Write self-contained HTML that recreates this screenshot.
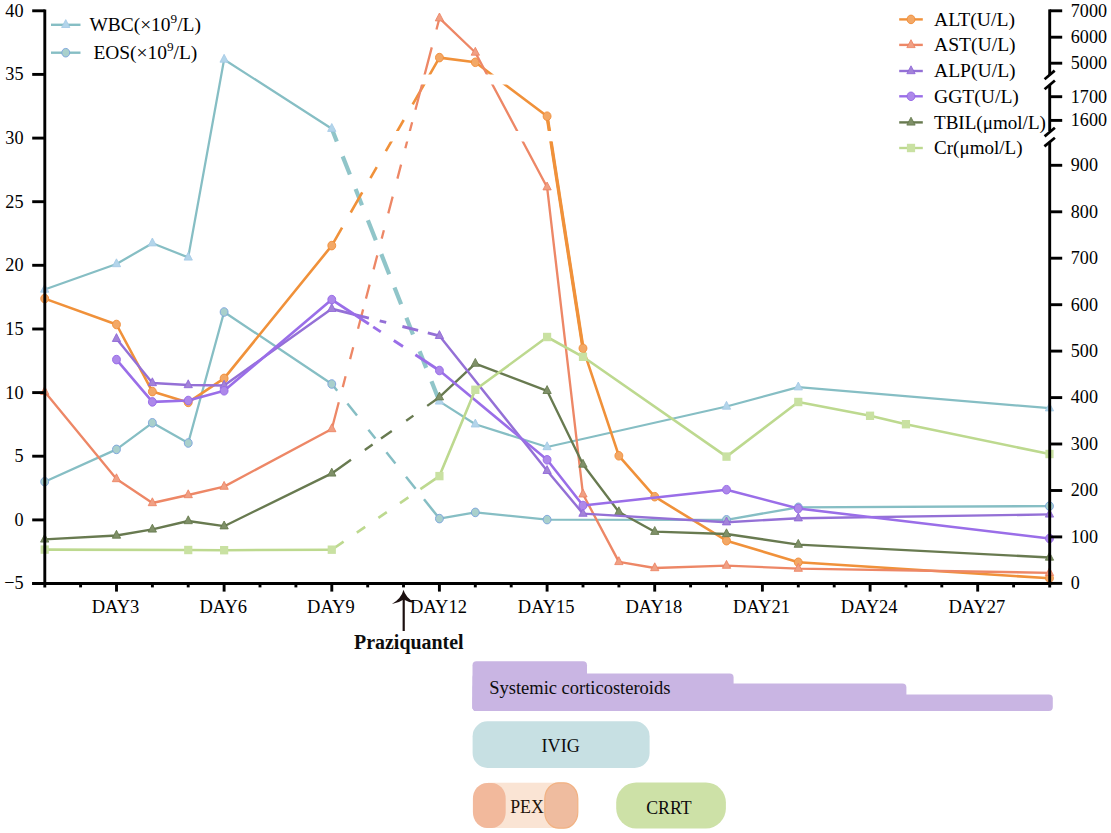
<!DOCTYPE html>
<html><head><meta charset="utf-8"><style>
html,body{margin:0;padding:0;background:#fff;}
body{width:1111px;height:833px;overflow:hidden;position:relative;}
svg{position:absolute;left:0;top:0;}
text{font-family:"Liberation Serif",serif;}
</style></head><body>
<svg width="1111" height="833" viewBox="0 0 1111 833">
<defs>
<clipPath id="brk"><path d="M0,0H1111V74.5H0Z M0,84.5H1111V131.0H0Z M0,141.6H1111V833H0Z"/></clipPath>
<clipPath id="plot"><rect x="38" y="0" width="1020" height="590"/></clipPath>
</defs>

<g fill="none" stroke="#86bec4" stroke-linejoin="round">
<polyline points="44.7,289.5 116.5,264.0 152.4,243.2 188.2,257.4 224.1,59.5 331.8,128.7" stroke-width="2.25"/>
<path d="M331.80,128.75L336.80,141.42M342.70,156.36L349.90,174.60M355.60,189.04L362.00,205.25M367.90,220.20L375.80,240.21M381.30,254.14L389.20,274.15M394.50,287.58L401.10,304.29M406.40,317.72L413.00,334.44M419.60,351.16L426.20,367.87M431.50,381.30L439.40,401.31" stroke="#90c5c9" stroke-width="4.2" stroke-linecap="butt"/>
<polyline points="439.4,401.4 475.3,424.3 547.1,447.0 726.5,406.5 798.3,387.2 1049.5,408.2" stroke-width="2.25"/>
</g>
<path d="M44.70,284.30L48.85,292.20L40.55,292.20Z" fill="#b3d5ea" stroke="#a5cae6" stroke-width="0.85" stroke-linejoin="miter"/><path d="M116.47,258.80L120.62,266.70L112.32,266.70Z" fill="#b3d5ea" stroke="#a5cae6" stroke-width="0.85" stroke-linejoin="miter"/><path d="M152.36,238.00L156.51,245.90L148.21,245.90Z" fill="#b3d5ea" stroke="#a5cae6" stroke-width="0.85" stroke-linejoin="miter"/><path d="M188.24,252.20L192.39,260.10L184.09,260.10Z" fill="#b3d5ea" stroke="#a5cae6" stroke-width="0.85" stroke-linejoin="miter"/><path d="M224.12,54.30L228.28,62.20L219.97,62.20Z" fill="#b3d5ea" stroke="#a5cae6" stroke-width="0.85" stroke-linejoin="miter"/><path d="M331.78,123.50L335.93,131.40L327.63,131.40Z" fill="#b3d5ea" stroke="#a5cae6" stroke-width="0.85" stroke-linejoin="miter"/><path d="M439.43,396.20L443.58,404.10L435.28,404.10Z" fill="#b3d5ea" stroke="#a5cae6" stroke-width="0.85" stroke-linejoin="miter"/><path d="M475.32,419.10L479.47,427.00L471.17,427.00Z" fill="#b3d5ea" stroke="#a5cae6" stroke-width="0.85" stroke-linejoin="miter"/><path d="M547.09,441.80L551.24,449.70L542.94,449.70Z" fill="#b3d5ea" stroke="#a5cae6" stroke-width="0.85" stroke-linejoin="miter"/><path d="M726.51,401.30L730.66,409.20L722.37,409.20Z" fill="#b3d5ea" stroke="#a5cae6" stroke-width="0.85" stroke-linejoin="miter"/><path d="M798.28,382.00L802.43,389.90L794.13,389.90Z" fill="#b3d5ea" stroke="#a5cae6" stroke-width="0.85" stroke-linejoin="miter"/><path d="M1049.48,403.00L1053.63,410.90L1045.33,410.90Z" fill="#b3d5ea" stroke="#a5cae6" stroke-width="0.85" stroke-linejoin="miter"/>
<g fill="none" stroke="#86bec4" stroke-linejoin="round">
<polyline points="44.7,481.7 116.5,449.4 152.4,422.8 188.2,443.0 224.1,312.0 331.8,384.0" stroke-width="2.3"/>
<path d="M331.78,384.00L337.20,390.78M347.40,403.53L357.00,415.53M368.40,429.79L375.40,438.54M386.40,452.29L395.40,463.54M406.00,476.80L415.60,488.80M424.00,499.30L439.40,518.56" stroke="#86bec4" stroke-width="2.5" stroke-linecap="butt"/>
<polyline points="439.4,518.6 475.3,512.4 547.1,519.6 726.5,519.8 798.3,507.3 1049.5,506.1" stroke-width="2.3"/>
</g>
<ellipse cx="44.70" cy="481.70" rx="3.95" ry="4.3" fill="#a9d0cc" stroke="#79a1dc" stroke-width="0.9"/><ellipse cx="116.47" cy="449.40" rx="3.95" ry="4.3" fill="#a9d0cc" stroke="#79a1dc" stroke-width="0.9"/><ellipse cx="152.36" cy="422.80" rx="3.95" ry="4.3" fill="#a9d0cc" stroke="#79a1dc" stroke-width="0.9"/><ellipse cx="188.24" cy="443.00" rx="3.95" ry="4.3" fill="#a9d0cc" stroke="#79a1dc" stroke-width="0.9"/><ellipse cx="224.12" cy="312.00" rx="3.95" ry="4.3" fill="#a9d0cc" stroke="#79a1dc" stroke-width="0.9"/><ellipse cx="331.78" cy="384.00" rx="3.95" ry="4.3" fill="#a9d0cc" stroke="#79a1dc" stroke-width="0.9"/><ellipse cx="439.43" cy="518.60" rx="3.95" ry="4.3" fill="#a9d0cc" stroke="#79a1dc" stroke-width="0.9"/><ellipse cx="475.32" cy="512.40" rx="3.95" ry="4.3" fill="#a9d0cc" stroke="#79a1dc" stroke-width="0.9"/><ellipse cx="547.09" cy="519.60" rx="3.95" ry="4.3" fill="#a9d0cc" stroke="#79a1dc" stroke-width="0.9"/><ellipse cx="726.51" cy="519.80" rx="3.95" ry="4.3" fill="#a9d0cc" stroke="#79a1dc" stroke-width="0.9"/><ellipse cx="798.28" cy="507.30" rx="3.95" ry="4.3" fill="#a9d0cc" stroke="#79a1dc" stroke-width="0.9"/><ellipse cx="1049.48" cy="506.10" rx="3.95" ry="4.3" fill="#a9d0cc" stroke="#79a1dc" stroke-width="0.9"/>
<g clip-path="url(#brk)" fill="none" stroke="#f0913a" stroke-linejoin="round">
<polyline points="44.7,298.6 116.5,324.5 152.4,391.6 188.2,402.4 224.1,378.4 331.8,245.6" stroke-width="2.6"/>
<path d="M331.78,245.60L342.09,227.60M350.73,212.50L362.24,192.40M370.43,178.10L376.73,167.10M385.84,151.20L403.70,120.00M412.69,104.30L439.43,57.60" stroke="#f0913a" stroke-width="2.6" stroke-linecap="butt"/>
<polyline points="439.4,57.6 475.3,62.3 547.1,116.2 583.0,348.3 618.9,455.8 654.7,496.7 726.5,540.7 798.3,562.3 1049.5,578.2" stroke-width="2.6"/>
<polyline points="547.1,116.2 583.0,348.3" stroke-width="3.4"/>
</g>
<ellipse cx="44.70" cy="298.60" rx="3.95" ry="4.3" fill="#f3a866" stroke="#f08c38" stroke-width="0.9"/><ellipse cx="116.47" cy="324.50" rx="3.95" ry="4.3" fill="#f3a866" stroke="#f08c38" stroke-width="0.9"/><ellipse cx="152.36" cy="391.60" rx="3.95" ry="4.3" fill="#f3a866" stroke="#f08c38" stroke-width="0.9"/><ellipse cx="188.24" cy="402.40" rx="3.95" ry="4.3" fill="#f3a866" stroke="#f08c38" stroke-width="0.9"/><ellipse cx="224.12" cy="378.40" rx="3.95" ry="4.3" fill="#f3a866" stroke="#f08c38" stroke-width="0.9"/><ellipse cx="331.78" cy="245.60" rx="3.95" ry="4.3" fill="#f3a866" stroke="#f08c38" stroke-width="0.9"/><ellipse cx="439.43" cy="57.60" rx="3.95" ry="4.3" fill="#f3a866" stroke="#f08c38" stroke-width="0.9"/><ellipse cx="475.32" cy="62.30" rx="3.95" ry="4.3" fill="#f3a866" stroke="#f08c38" stroke-width="0.9"/><ellipse cx="547.09" cy="116.20" rx="3.95" ry="4.3" fill="#f3a866" stroke="#f08c38" stroke-width="0.9"/><ellipse cx="582.98" cy="348.30" rx="3.95" ry="4.3" fill="#f3a866" stroke="#f08c38" stroke-width="0.9"/><ellipse cx="618.86" cy="455.80" rx="3.95" ry="4.3" fill="#f3a866" stroke="#f08c38" stroke-width="0.9"/><ellipse cx="654.75" cy="496.70" rx="3.95" ry="4.3" fill="#f3a866" stroke="#f08c38" stroke-width="0.9"/><ellipse cx="726.51" cy="540.70" rx="3.95" ry="4.3" fill="#f3a866" stroke="#f08c38" stroke-width="0.9"/><ellipse cx="798.28" cy="562.30" rx="3.95" ry="4.3" fill="#f3a866" stroke="#f08c38" stroke-width="0.9"/><ellipse cx="1049.48" cy="578.20" rx="3.95" ry="4.3" fill="#f3a866" stroke="#f08c38" stroke-width="0.9"/>
<g clip-path="url(#brk)" fill="none" stroke="#ed8766" stroke-linejoin="round">
<polyline points="44.7,391.7 116.5,479.0 152.4,503.0 188.2,495.0 224.1,486.6 331.8,429.0" stroke-width="2.35"/>
<path d="M331.78,429.00L338.78,402.30M342.76,387.10L345.59,376.30M350.10,359.10L353.22,347.20M358.04,328.80L363.12,309.40M365.95,298.60L369.62,284.60M373.61,269.40L377.27,255.40M381.68,238.60L383.88,230.20M388.28,213.40L392.68,196.60M397.40,178.60L401.07,164.60M405.34,148.30L412.15,122.30M415.43,109.80L431.78,47.40M436.47,29.50L439.43,18.20" stroke="#ed8766" stroke-width="2.3" stroke-linecap="butt"/>
<polyline points="439.4,18.2 475.3,52.5 547.1,187.2 583.0,494.3 618.9,561.9 654.7,568.0 726.5,565.6 798.3,568.6 1049.5,572.8" stroke-width="2.35"/>
</g>
<path d="M44.70,386.50L48.85,394.40L40.55,394.40Z" fill="#f0a084" stroke="#ec8262" stroke-width="0.85" stroke-linejoin="miter"/><path d="M116.47,473.80L120.62,481.70L112.32,481.70Z" fill="#f0a084" stroke="#ec8262" stroke-width="0.85" stroke-linejoin="miter"/><path d="M152.36,497.80L156.51,505.70L148.21,505.70Z" fill="#f0a084" stroke="#ec8262" stroke-width="0.85" stroke-linejoin="miter"/><path d="M188.24,489.80L192.39,497.70L184.09,497.70Z" fill="#f0a084" stroke="#ec8262" stroke-width="0.85" stroke-linejoin="miter"/><path d="M224.12,481.40L228.28,489.30L219.97,489.30Z" fill="#f0a084" stroke="#ec8262" stroke-width="0.85" stroke-linejoin="miter"/><path d="M331.78,423.80L335.93,431.70L327.63,431.70Z" fill="#f0a084" stroke="#ec8262" stroke-width="0.85" stroke-linejoin="miter"/><path d="M439.43,13.00L443.58,20.90L435.28,20.90Z" fill="#f0a084" stroke="#ec8262" stroke-width="0.85" stroke-linejoin="miter"/><path d="M475.32,47.30L479.47,55.20L471.17,55.20Z" fill="#f0a084" stroke="#ec8262" stroke-width="0.85" stroke-linejoin="miter"/><path d="M547.09,182.00L551.24,189.90L542.94,189.90Z" fill="#f0a084" stroke="#ec8262" stroke-width="0.85" stroke-linejoin="miter"/><path d="M582.98,489.10L587.12,497.00L578.83,497.00Z" fill="#f0a084" stroke="#ec8262" stroke-width="0.85" stroke-linejoin="miter"/><path d="M618.86,556.70L623.01,564.60L614.71,564.60Z" fill="#f0a084" stroke="#ec8262" stroke-width="0.85" stroke-linejoin="miter"/><path d="M654.75,562.80L658.89,570.70L650.60,570.70Z" fill="#f0a084" stroke="#ec8262" stroke-width="0.85" stroke-linejoin="miter"/><path d="M726.51,560.40L730.66,568.30L722.37,568.30Z" fill="#f0a084" stroke="#ec8262" stroke-width="0.85" stroke-linejoin="miter"/><path d="M798.28,563.40L802.43,571.30L794.13,571.30Z" fill="#f0a084" stroke="#ec8262" stroke-width="0.85" stroke-linejoin="miter"/><path d="M1049.48,567.60L1053.63,575.50L1045.33,575.50Z" fill="#f0a084" stroke="#ec8262" stroke-width="0.85" stroke-linejoin="miter"/>
<g clip-path="url(#brk)" fill="none" stroke="#687a50" stroke-linejoin="round">
<polyline points="44.7,539.4 116.5,535.5 152.4,529.4 188.2,521.0 224.1,526.2 331.8,473.4" stroke-width="2.35"/>
<path d="M331.78,473.40L351.00,459.80M364.80,450.03L372.60,444.51M381.00,438.56L391.80,430.92M406.20,420.72L413.40,415.63M427.20,405.86L439.40,397.22" stroke="#687a50" stroke-width="2.4" stroke-linecap="butt"/>
<polyline points="439.4,397.2 475.3,363.6 547.1,390.8 583.0,464.5 618.9,512.0 654.7,531.7 726.5,534.0 798.3,544.6 1049.5,557.5" stroke-width="2.35"/>
</g>
<path d="M44.70,534.20L48.85,542.10L40.55,542.10Z" fill="#7f9068" stroke="#64784c" stroke-width="0.85" stroke-linejoin="miter"/><path d="M116.47,530.30L120.62,538.20L112.32,538.20Z" fill="#7f9068" stroke="#64784c" stroke-width="0.85" stroke-linejoin="miter"/><path d="M152.36,524.20L156.51,532.10L148.21,532.10Z" fill="#7f9068" stroke="#64784c" stroke-width="0.85" stroke-linejoin="miter"/><path d="M188.24,515.80L192.39,523.70L184.09,523.70Z" fill="#7f9068" stroke="#64784c" stroke-width="0.85" stroke-linejoin="miter"/><path d="M224.12,521.00L228.28,528.90L219.97,528.90Z" fill="#7f9068" stroke="#64784c" stroke-width="0.85" stroke-linejoin="miter"/><path d="M331.78,468.20L335.93,476.10L327.63,476.10Z" fill="#7f9068" stroke="#64784c" stroke-width="0.85" stroke-linejoin="miter"/><path d="M439.43,392.00L443.58,399.90L435.28,399.90Z" fill="#7f9068" stroke="#64784c" stroke-width="0.85" stroke-linejoin="miter"/><path d="M475.32,358.40L479.47,366.30L471.17,366.30Z" fill="#7f9068" stroke="#64784c" stroke-width="0.85" stroke-linejoin="miter"/><path d="M547.09,385.60L551.24,393.50L542.94,393.50Z" fill="#7f9068" stroke="#64784c" stroke-width="0.85" stroke-linejoin="miter"/><path d="M582.98,459.30L587.12,467.20L578.83,467.20Z" fill="#7f9068" stroke="#64784c" stroke-width="0.85" stroke-linejoin="miter"/><path d="M618.86,506.80L623.01,514.70L614.71,514.70Z" fill="#7f9068" stroke="#64784c" stroke-width="0.85" stroke-linejoin="miter"/><path d="M654.75,526.50L658.89,534.40L650.60,534.40Z" fill="#7f9068" stroke="#64784c" stroke-width="0.85" stroke-linejoin="miter"/><path d="M726.51,528.80L730.66,536.70L722.37,536.70Z" fill="#7f9068" stroke="#64784c" stroke-width="0.85" stroke-linejoin="miter"/><path d="M798.28,539.40L802.43,547.30L794.13,547.30Z" fill="#7f9068" stroke="#64784c" stroke-width="0.85" stroke-linejoin="miter"/><path d="M1049.48,552.30L1053.63,560.20L1045.33,560.20Z" fill="#7f9068" stroke="#64784c" stroke-width="0.85" stroke-linejoin="miter"/>
<g clip-path="url(#brk)" fill="none" stroke="#9470d6" stroke-linejoin="round">
<polyline points="116.5,338.8 152.4,383.0 188.2,385.0 224.1,385.5 331.8,308.8" stroke-width="2.45"/>
<path d="M331.78,308.80L368.90,318.11M379.70,320.82L386.20,322.45M402.40,326.51L418.10,330.45M427.80,332.88L439.40,335.79" stroke="#9470d6" stroke-width="2.9" stroke-linecap="butt"/>
<polyline points="439.4,335.8 547.1,470.8 583.0,513.6 726.5,522.2 798.3,518.2 1049.5,514.4" stroke-width="2.45"/>
</g>
<path d="M116.47,333.60L120.62,341.50L112.32,341.50Z" fill="#a283d8" stroke="#8f66d8" stroke-width="0.85" stroke-linejoin="miter"/><path d="M152.36,377.80L156.51,385.70L148.21,385.70Z" fill="#a283d8" stroke="#8f66d8" stroke-width="0.85" stroke-linejoin="miter"/><path d="M188.24,379.80L192.39,387.70L184.09,387.70Z" fill="#a283d8" stroke="#8f66d8" stroke-width="0.85" stroke-linejoin="miter"/><path d="M224.12,380.30L228.28,388.20L219.97,388.20Z" fill="#a283d8" stroke="#8f66d8" stroke-width="0.85" stroke-linejoin="miter"/><path d="M331.78,303.60L335.93,311.50L327.63,311.50Z" fill="#a283d8" stroke="#8f66d8" stroke-width="0.85" stroke-linejoin="miter"/><path d="M439.43,330.60L443.58,338.50L435.28,338.50Z" fill="#a283d8" stroke="#8f66d8" stroke-width="0.85" stroke-linejoin="miter"/><path d="M547.09,465.60L551.24,473.50L542.94,473.50Z" fill="#a283d8" stroke="#8f66d8" stroke-width="0.85" stroke-linejoin="miter"/><path d="M582.98,508.40L587.12,516.30L578.83,516.30Z" fill="#a283d8" stroke="#8f66d8" stroke-width="0.85" stroke-linejoin="miter"/><path d="M726.51,517.00L730.66,524.90L722.37,524.90Z" fill="#a283d8" stroke="#8f66d8" stroke-width="0.85" stroke-linejoin="miter"/><path d="M798.28,513.00L802.43,520.90L794.13,520.90Z" fill="#a283d8" stroke="#8f66d8" stroke-width="0.85" stroke-linejoin="miter"/><path d="M1049.48,509.20L1053.63,517.10L1045.33,517.10Z" fill="#a283d8" stroke="#8f66d8" stroke-width="0.85" stroke-linejoin="miter"/>
<g clip-path="url(#brk)" fill="none" stroke="#9a6ee8" stroke-linejoin="round">
<polyline points="116.5,359.6 152.4,401.9 188.2,400.5 224.1,390.8 331.8,299.6" stroke-width="2.6"/>
<path d="M331.78,299.60L368.90,324.05M373.20,326.88L380.80,331.88M393.80,340.45L403.00,346.50M415.40,354.67L439.40,370.48" stroke="#9a6ee8" stroke-width="2.9" stroke-linecap="butt"/>
<polyline points="439.4,370.5 547.1,459.8 583.0,505.5 726.5,489.7 798.3,508.5 1049.5,538.5" stroke-width="2.6"/>
</g>
<ellipse cx="116.47" cy="359.60" rx="3.95" ry="4.3" fill="#ad88ea" stroke="#9466e6" stroke-width="0.9"/><ellipse cx="152.36" cy="401.90" rx="3.95" ry="4.3" fill="#ad88ea" stroke="#9466e6" stroke-width="0.9"/><ellipse cx="188.24" cy="400.50" rx="3.95" ry="4.3" fill="#ad88ea" stroke="#9466e6" stroke-width="0.9"/><ellipse cx="224.12" cy="390.80" rx="3.95" ry="4.3" fill="#ad88ea" stroke="#9466e6" stroke-width="0.9"/><ellipse cx="331.78" cy="299.60" rx="3.95" ry="4.3" fill="#ad88ea" stroke="#9466e6" stroke-width="0.9"/><ellipse cx="439.43" cy="370.50" rx="3.95" ry="4.3" fill="#ad88ea" stroke="#9466e6" stroke-width="0.9"/><ellipse cx="547.09" cy="459.80" rx="3.95" ry="4.3" fill="#ad88ea" stroke="#9466e6" stroke-width="0.9"/><ellipse cx="582.98" cy="505.50" rx="3.95" ry="4.3" fill="#ad88ea" stroke="#9466e6" stroke-width="0.9"/><ellipse cx="726.51" cy="489.70" rx="3.95" ry="4.3" fill="#ad88ea" stroke="#9466e6" stroke-width="0.9"/><ellipse cx="798.28" cy="508.50" rx="3.95" ry="4.3" fill="#ad88ea" stroke="#9466e6" stroke-width="0.9"/><ellipse cx="1049.48" cy="538.50" rx="3.95" ry="4.3" fill="#ad88ea" stroke="#9466e6" stroke-width="0.9"/>
<g clip-path="url(#brk)" fill="none" stroke="#bdd98f" stroke-linejoin="round">
<polyline points="44.7,549.6 188.2,550.0 224.1,550.2 331.8,549.7" stroke-width="2.6"/>
<path d="M331.78,549.70L343.60,541.62M356.80,532.59L365.20,526.85M378.40,517.83L386.80,512.08M400.00,503.06L408.40,497.32M420.40,489.11L439.40,476.12" stroke="#bdd98f" stroke-width="2.6" stroke-linecap="butt"/>
<polyline points="439.4,476.1 475.3,389.8 547.1,337.0 583.0,356.8 726.5,456.6 798.3,402.0 870.1,415.8 905.9,424.2 1049.5,454.0" stroke-width="2.6"/>
</g>
<rect x="40.60" y="545.40" width="8.2" height="8.4" fill="#c9e1a2"/><rect x="184.14" y="545.80" width="8.2" height="8.4" fill="#c9e1a2"/><rect x="220.03" y="546.00" width="8.2" height="8.4" fill="#c9e1a2"/><rect x="327.68" y="545.50" width="8.2" height="8.4" fill="#c9e1a2"/><rect x="435.33" y="471.90" width="8.2" height="8.4" fill="#c9e1a2"/><rect x="471.22" y="385.60" width="8.2" height="8.4" fill="#c9e1a2"/><rect x="542.99" y="332.80" width="8.2" height="8.4" fill="#c9e1a2"/><rect x="578.88" y="352.60" width="8.2" height="8.4" fill="#c9e1a2"/><rect x="722.41" y="452.40" width="8.2" height="8.4" fill="#c9e1a2"/><rect x="794.18" y="397.80" width="8.2" height="8.4" fill="#c9e1a2"/><rect x="865.95" y="411.60" width="8.2" height="8.4" fill="#c9e1a2"/><rect x="901.84" y="420.00" width="8.2" height="8.4" fill="#c9e1a2"/><rect x="1045.38" y="449.80" width="8.2" height="8.4" fill="#c9e1a2"/>
<g stroke="#000" fill="none">
<line x1="44.8" y1="9.4" x2="44.8" y2="587.4" stroke-width="2.9"/>
<line x1="32.2" y1="583.5" x2="1051.3" y2="583.5" stroke-width="2.9"/>
<line x1="32.2" y1="10.8" x2="44.8" y2="10.8" stroke-width="2.9"/>
<line x1="32.2" y1="74.4" x2="44.8" y2="74.4" stroke-width="2.9"/>
<line x1="32.2" y1="138.1" x2="44.8" y2="138.1" stroke-width="2.9"/>
<line x1="32.2" y1="201.7" x2="44.8" y2="201.7" stroke-width="2.9"/>
<line x1="32.2" y1="265.3" x2="44.8" y2="265.3" stroke-width="2.9"/>
<line x1="32.2" y1="329.0" x2="44.8" y2="329.0" stroke-width="2.9"/>
<line x1="32.2" y1="392.6" x2="44.8" y2="392.6" stroke-width="2.9"/>
<line x1="32.2" y1="456.2" x2="44.8" y2="456.2" stroke-width="2.9"/>
<line x1="32.2" y1="519.9" x2="44.8" y2="519.9" stroke-width="2.9"/>
<line x1="32.2" y1="583.5" x2="44.8" y2="583.5" stroke-width="2.9"/>
<line x1="80.6" y1="583.5" x2="80.6" y2="587.4" stroke-width="2.9"/>
<line x1="116.5" y1="583.5" x2="116.5" y2="591.6" stroke-width="2.9"/>
<line x1="152.4" y1="583.5" x2="152.4" y2="587.4" stroke-width="2.9"/>
<line x1="188.2" y1="583.5" x2="188.2" y2="587.4" stroke-width="2.9"/>
<line x1="224.1" y1="583.5" x2="224.1" y2="591.6" stroke-width="2.9"/>
<line x1="260.0" y1="583.5" x2="260.0" y2="587.4" stroke-width="2.9"/>
<line x1="295.9" y1="583.5" x2="295.9" y2="587.4" stroke-width="2.9"/>
<line x1="331.8" y1="583.5" x2="331.8" y2="591.6" stroke-width="2.9"/>
<line x1="367.7" y1="583.5" x2="367.7" y2="587.4" stroke-width="2.9"/>
<line x1="403.5" y1="583.5" x2="403.5" y2="587.4" stroke-width="2.9"/>
<line x1="439.4" y1="583.5" x2="439.4" y2="591.6" stroke-width="2.9"/>
<line x1="475.3" y1="583.5" x2="475.3" y2="587.4" stroke-width="2.9"/>
<line x1="511.2" y1="583.5" x2="511.2" y2="587.4" stroke-width="2.9"/>
<line x1="547.1" y1="583.5" x2="547.1" y2="591.6" stroke-width="2.9"/>
<line x1="583.0" y1="583.5" x2="583.0" y2="587.4" stroke-width="2.9"/>
<line x1="618.9" y1="583.5" x2="618.9" y2="587.4" stroke-width="2.9"/>
<line x1="654.7" y1="583.5" x2="654.7" y2="591.6" stroke-width="2.9"/>
<line x1="690.6" y1="583.5" x2="690.6" y2="587.4" stroke-width="2.9"/>
<line x1="726.5" y1="583.5" x2="726.5" y2="587.4" stroke-width="2.9"/>
<line x1="762.4" y1="583.5" x2="762.4" y2="591.6" stroke-width="2.9"/>
<line x1="798.3" y1="583.5" x2="798.3" y2="587.4" stroke-width="2.9"/>
<line x1="834.2" y1="583.5" x2="834.2" y2="587.4" stroke-width="2.9"/>
<line x1="870.1" y1="583.5" x2="870.1" y2="591.6" stroke-width="2.9"/>
<line x1="905.9" y1="583.5" x2="905.9" y2="587.4" stroke-width="2.9"/>
<line x1="941.8" y1="583.5" x2="941.8" y2="587.4" stroke-width="2.9"/>
<line x1="977.7" y1="583.5" x2="977.7" y2="591.6" stroke-width="2.9"/>
<line x1="1013.6" y1="583.5" x2="1013.6" y2="587.4" stroke-width="2.9"/>
<line x1="1049.7" y1="9.4" x2="1049.7" y2="75" stroke-width="2.9"/>
<line x1="1049.7" y1="85" x2="1049.7" y2="131" stroke-width="2.9"/>
<line x1="1049.7" y1="141.7" x2="1049.7" y2="587.4" stroke-width="2.9"/>
<line x1="1049.7" y1="10.8" x2="1062.2" y2="10.8" stroke-width="2.9"/>
<line x1="1049.7" y1="37.2" x2="1062.2" y2="37.2" stroke-width="2.9"/>
<line x1="1049.7" y1="63.2" x2="1062.2" y2="63.2" stroke-width="2.9"/>
<line x1="1049.7" y1="96.7" x2="1062.2" y2="96.7" stroke-width="2.9"/>
<line x1="1049.7" y1="120.4" x2="1062.2" y2="120.4" stroke-width="2.9"/>
<line x1="1049.7" y1="165.3" x2="1062.2" y2="165.3" stroke-width="2.9"/>
<line x1="1049.7" y1="211.8" x2="1062.2" y2="211.8" stroke-width="2.9"/>
<line x1="1049.7" y1="258.2" x2="1062.2" y2="258.2" stroke-width="2.9"/>
<line x1="1049.7" y1="304.7" x2="1062.2" y2="304.7" stroke-width="2.9"/>
<line x1="1049.7" y1="351.1" x2="1062.2" y2="351.1" stroke-width="2.9"/>
<line x1="1049.7" y1="397.6" x2="1062.2" y2="397.6" stroke-width="2.9"/>
<line x1="1049.7" y1="444.0" x2="1062.2" y2="444.0" stroke-width="2.9"/>
<line x1="1049.7" y1="490.5" x2="1062.2" y2="490.5" stroke-width="2.9"/>
<line x1="1049.7" y1="536.9" x2="1062.2" y2="536.9" stroke-width="2.9"/>
<line x1="1049.7" y1="583.4" x2="1062.2" y2="583.4" stroke-width="2.9"/>
<line x1="1044.6" y1="79.2" x2="1054.7" y2="70.6" stroke-width="2.7"/>
<line x1="1044.6" y1="89.3" x2="1054.9" y2="80.4" stroke-width="2.7"/>
<line x1="1044.6" y1="136.4" x2="1054.9" y2="127.7" stroke-width="2.7"/>
<line x1="1044.4" y1="146.4" x2="1054.9" y2="137.8" stroke-width="2.7"/>
</g>
<g fill="#000">
<text transform="translate(23.50,16.70) scale(1,1.08)" font-size="18.2" text-anchor="end">40</text>
<text transform="translate(23.50,80.33) scale(1,1.08)" font-size="18.2" text-anchor="end">35</text>
<text transform="translate(23.50,143.97) scale(1,1.08)" font-size="18.2" text-anchor="end">30</text>
<text transform="translate(23.50,207.60) scale(1,1.08)" font-size="18.2" text-anchor="end">25</text>
<text transform="translate(23.50,271.23) scale(1,1.08)" font-size="18.2" text-anchor="end">20</text>
<text transform="translate(23.50,334.87) scale(1,1.08)" font-size="18.2" text-anchor="end">15</text>
<text transform="translate(23.50,398.50) scale(1,1.08)" font-size="18.2" text-anchor="end">10</text>
<text transform="translate(23.50,462.13) scale(1,1.08)" font-size="18.2" text-anchor="end">5</text>
<text transform="translate(23.50,525.77) scale(1,1.08)" font-size="18.2" text-anchor="end">0</text>
<text transform="translate(23.50,589.40) scale(1,1.08)" font-size="18.2" text-anchor="end">−5</text>
<text transform="translate(1070.80,16.70) scale(1,1.08)" font-size="18.1">7000</text>
<text transform="translate(1070.80,43.10) scale(1,1.08)" font-size="18.1">6000</text>
<text transform="translate(1070.80,69.10) scale(1,1.08)" font-size="18.1">5000</text>
<text transform="translate(1070.80,102.60) scale(1,1.08)" font-size="18.1">1700</text>
<text transform="translate(1070.80,126.30) scale(1,1.08)" font-size="18.1">1600</text>
<text transform="translate(1070.80,171.20) scale(1,1.08)" font-size="18.1">900</text>
<text transform="translate(1070.80,217.66) scale(1,1.08)" font-size="18.1">800</text>
<text transform="translate(1070.80,264.11) scale(1,1.08)" font-size="18.1">700</text>
<text transform="translate(1070.80,310.57) scale(1,1.08)" font-size="18.1">600</text>
<text transform="translate(1070.80,357.02) scale(1,1.08)" font-size="18.1">500</text>
<text transform="translate(1070.80,403.48) scale(1,1.08)" font-size="18.1">400</text>
<text transform="translate(1070.80,449.93) scale(1,1.08)" font-size="18.1">300</text>
<text transform="translate(1070.80,496.39) scale(1,1.08)" font-size="18.1">200</text>
<text transform="translate(1070.80,542.84) scale(1,1.08)" font-size="18.1">100</text>
<text transform="translate(1070.80,589.30) scale(1,1.08)" font-size="18.1">0</text>
<text transform="translate(115.57,612.80) scale(1,1.07)" font-size="18.5" text-anchor="middle">DAY3</text>
<text transform="translate(223.22,612.80) scale(1,1.07)" font-size="18.5" text-anchor="middle">DAY6</text>
<text transform="translate(330.88,612.80) scale(1,1.07)" font-size="18.5" text-anchor="middle">DAY9</text>
<text transform="translate(438.53,612.80) scale(1,1.07)" font-size="18.5" text-anchor="middle">DAY12</text>
<text transform="translate(546.19,612.80) scale(1,1.07)" font-size="18.5" text-anchor="middle">DAY15</text>
<text transform="translate(653.85,612.80) scale(1,1.07)" font-size="18.5" text-anchor="middle">DAY18</text>
<text transform="translate(761.50,612.80) scale(1,1.07)" font-size="18.5" text-anchor="middle">DAY21</text>
<text transform="translate(869.15,612.80) scale(1,1.07)" font-size="18.5" text-anchor="middle">DAY24</text>
<text transform="translate(976.81,612.80) scale(1,1.07)" font-size="18.5" text-anchor="middle">DAY27</text>
</g>
<g fill="#000">
<line x1="51" y1="24.8" x2="80.5" y2="24.8" stroke="#86bec4" stroke-width="2.4"/><path d="M65.75,19.60L69.90,27.50L61.60,27.50Z" fill="#b3d5ea" stroke="#a5cae6" stroke-width="0.85" stroke-linejoin="miter"/><text transform="translate(89.40,31.20) scale(1,1.0)" font-size="19.45">WBC(×10<tspan font-size="13.2" dy="-8.1">9</tspan><tspan dy="8.1">/L)</tspan></text>
<line x1="51" y1="52.7" x2="80.5" y2="52.7" stroke="#86bec4" stroke-width="2.4"/><ellipse cx="65.75" cy="52.70" rx="3.95" ry="4.3" fill="#a9d0cc" stroke="#79a1dc" stroke-width="0.9"/><text transform="translate(93.40,59.10) scale(1,1.0)" font-size="19.45">EOS(×10<tspan font-size="13.2" dy="-8.1">9</tspan><tspan dy="8.1">/L)</tspan></text>
<line x1="899.2" y1="19.4" x2="922.8" y2="19.4" stroke="#f0913a" stroke-width="2.4"/><ellipse cx="911.00" cy="19.40" rx="3.95" ry="4.3" fill="#f3a866" stroke="#f08c38" stroke-width="0.9"/><text transform="translate(934.00,25.80) scale(1,1.0)" font-size="19.6">ALT(U/L)</text>
<line x1="899.2" y1="44.9" x2="922.8" y2="44.9" stroke="#ed8766" stroke-width="2.4"/><path d="M911.00,39.70L915.15,47.60L906.85,47.60Z" fill="#f0a084" stroke="#ec8262" stroke-width="0.85" stroke-linejoin="miter"/><text transform="translate(934.00,51.30) scale(1,1.0)" font-size="19.6">AST(U/L)</text>
<line x1="899.2" y1="71" x2="922.8" y2="71" stroke="#9470d6" stroke-width="2.4"/><path d="M911.00,65.80L915.15,73.70L906.85,73.70Z" fill="#a283d8" stroke="#8f66d8" stroke-width="0.85" stroke-linejoin="miter"/><text transform="translate(934.00,77.40) scale(1,1.0)" font-size="19.6">ALP(U/L)</text>
<line x1="899.2" y1="96.3" x2="922.8" y2="96.3" stroke="#9a6ee8" stroke-width="2.4"/><ellipse cx="911.00" cy="96.30" rx="3.95" ry="4.3" fill="#ad88ea" stroke="#9466e6" stroke-width="0.9"/><text transform="translate(934.00,102.70) scale(1,1.0)" font-size="19.6">GGT(U/L)</text>
<line x1="899.2" y1="122.4" x2="922.8" y2="122.4" stroke="#687a50" stroke-width="2.4"/><path d="M911.00,117.20L915.15,125.10L906.85,125.10Z" fill="#7f9068" stroke="#64784c" stroke-width="0.85" stroke-linejoin="miter"/><text transform="translate(934.00,128.80) scale(0.974,1.0)" font-size="19.6">TBIL(μmol/L)</text>
<line x1="899.2" y1="148" x2="922.8" y2="148" stroke="#bdd98f" stroke-width="2.4"/><rect x="906.90" y="143.80" width="8.2" height="8.4" fill="#c9e1a2"/><text transform="translate(934.00,154.40) scale(0.974,1.0)" font-size="19.6">Cr(μmol/L)</text>
</g>
<g fill="#1c1010"><path d="M403.5,589.7 Q401.6,598 391.9,604.1 Q398.3,603.3 403.7,599.6 Q409.2,603 414.7,602.7 Q405.6,597.5 403.5,589.7 Z"/><rect x="402.6" y="596" width="2.2" height="35"/></g>
<text transform="translate(408.80,648.80) scale(1,1.0)" font-size="19.9" text-anchor="middle" font-weight="bold" fill="#0d0d0d">Praziquantel</text>
<g fill="#c9b5e3">
<rect x="472.5" y="661.2" width="114.5" height="49.8" rx="4" ry="4"/>
<rect x="472.5" y="673.4" width="261.1" height="37.6" rx="4" ry="4"/>
<rect x="472.5" y="683.4" width="433.9" height="27.6" rx="4" ry="4"/>
<rect x="472.5" y="694.6" width="580.3" height="16.4" rx="4" ry="4"/>
</g>
<text transform="translate(489.20,694.30) scale(1,1.02)" font-size="18.5" fill="#0d0d0d">Systemic corticosteroids</text>
<rect x="472.6" y="721.3" width="177" height="46.7" rx="15" ry="15" fill="#c7e0e3"/>
<text transform="translate(560.65,752.00) scale(1,1.07)" font-size="18.1" text-anchor="middle" fill="#0d0d0d">IVIG</text>
<rect x="488" y="782.7" width="74" height="45.3" fill="#fae4d4"/>
<rect x="472.9" y="782.9" width="32.8" height="45" rx="14" ry="16" fill="#f2b99c"/>
<rect x="544.8" y="782.8" width="33" height="45.4" rx="14" ry="16" fill="#efbc9f" stroke="#f2b283" stroke-width="1.2"/>
<text transform="translate(527.00,813.40) scale(1,1.03)" font-size="17.8" text-anchor="middle" fill="#1e1209">PEX</text>
<rect x="616.2" y="782.6" width="109.7" height="45.8" rx="20" ry="20" fill="#cde1a7"/>
<text transform="translate(668.90,813.60) scale(1,1.08)" font-size="17.8" text-anchor="middle" fill="#0d0d0d">CRRT</text>
</svg>
</body></html>
